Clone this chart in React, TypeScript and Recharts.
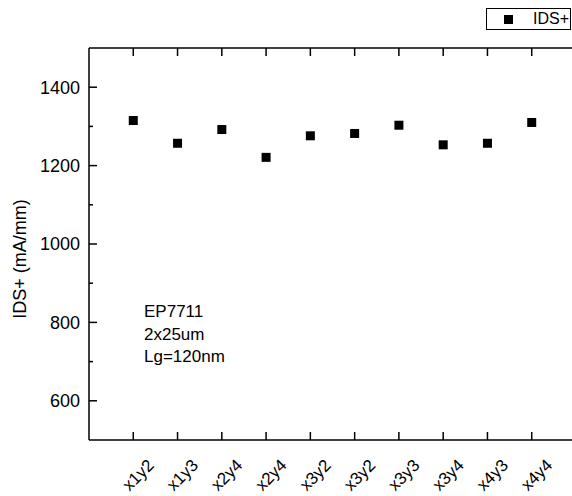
import React from "react";
import { ScatterChart, Scatter, XAxis, YAxis, ReferenceLine } from "recharts";

const categories = ["x1y2", "x1y3", "x2y4", "x2y4", "x3y2", "x3y2", "x3y3", "x3y4", "x4y3", "x4y4"];
const idsValues = [1315, 1257, 1292, 1221, 1276, 1282, 1303, 1253, 1257, 1310];
const yMajorTicks = [600, 800, 1000, 1200, 1400];
const yMinorTicks = [700, 900, 1100, 1300];
const noteLines = ["EP7711", "2x25um", "Lg=120nm"];

const FONT = "'Liberation Sans', Arial, sans-serif";
const PLOT_TOP = 48;
const PLOT_LEFT = 89;
const Y_DOMAIN = [500, 1500];

const points = idsValues.map((v, i) => ({ x: i + 1, y: v, name: categories[i] }));
const xTicks = categories.map((_, i) => i + 1);
const yTicks = [...yMajorTicks, ...yMinorTicks].sort((a, b) => a - b);

const SquareDot = (props: any) => {
    const { cx, cy } = props;
    return <rect x={cx - 4.5} y={cy - 4.5} width={9} height={9} fill="#000" />;
};

const LeftTick = (props: any) => {
    const { x, y, payload } = props;
    const major = yMajorTicks.includes(payload.value);
    return (
        <g>
            <line x1={x} x2={x + (major ? 8 : 4)} y1={y} y2={y} stroke="#000" strokeWidth={1.5} />
            {major && (
                <text x={x - 9} y={y} dy="0.36em" textAnchor="end" fontSize={18} fontFamily={FONT} fill="#000">
                    {payload.value}
                </text>
            )}
        </g>
    );
};

const RightTick = (props: any) => {
    const { x, y, payload } = props;
    const major = yMajorTicks.includes(payload.value);
    return <line x1={x} x2={x - (major ? 8 : 4)} y1={y} y2={y} stroke="#000" strokeWidth={1.5} />;
};

// bottom tick + label, and the matching inward tick on the top frame
const BottomTick = (props: any) => {
    const { x, y, payload } = props;
    const label = categories[payload.value - 1];
    const tx = x + 9;
    const ty = y + 39;
    return (
        <g>
            <line x1={x} x2={x} y1={y} y2={y - 8} stroke="#000" strokeWidth={1.5} />
            <line x1={x} x2={x} y1={PLOT_TOP} y2={PLOT_TOP + 8} stroke="#000" strokeWidth={1.5} />
            <text x={tx} y={ty} textAnchor="middle" fontSize={17} fontFamily={FONT} fill="#000"
                transform={`rotate(-45, ${tx}, ${ty})`}>
                {label}
            </text>
        </g>
    );
};

const LegendBox = () => (
    <div style={{
        position: "absolute", top: 8, left: 486, width: 85, height: 22, boxSizing: "border-box",
        border: "1px solid #000", display: "flex", alignItems: "center", fontFamily: FONT, fontSize: 16,
        background: "#fff"
    }}>
        <div style={{ width: 9, height: 9, background: "#000", marginLeft: 17, marginRight: 20 }} />
        <span>IDS+</span>
    </div>
);

export default function App() {
    return (
        <div style={{ position: "absolute", left: 0, top: 0, width: 572, height: 496, overflow: "hidden", background: "#fff" }}>
            <ScatterChart width={580} height={496} margin={{ top: PLOT_TOP, right: 3, bottom: 0, left: 0 }}>
                <XAxis dataKey="x" type="number" domain={[0, 11]} ticks={xTicks} height={56}
                    axisLine={{ stroke: "#000", strokeWidth: 1.5 }} tickLine={false} tickSize={0} tickMargin={0}
                    tick={<BottomTick />} interval={0} />
                <YAxis dataKey="y" type="number" domain={Y_DOMAIN} ticks={yTicks} width={PLOT_LEFT}
                    axisLine={{ stroke: "#000", strokeWidth: 1.5 }} tickLine={false} tickSize={0} tickMargin={0}
                    tick={<LeftTick />} interval={0} />
                <YAxis yAxisId="right" orientation="right" type="number" domain={Y_DOMAIN} ticks={yTicks} width={1}
                    axisLine={{ stroke: "#000", strokeWidth: 1.5 }} tickLine={false} tickSize={0} tickMargin={0}
                    tick={<RightTick />} interval={0} />
                <ReferenceLine y={Y_DOMAIN[1]} stroke="#000" strokeWidth={1.5} ifOverflow="visible" />
                <Scatter name="IDS+" data={points} dataKey="y" fill="#000" shape={<SquareDot />} isAnimationActive={false} />
                <text x={26} y={259} textAnchor="middle" fontSize={18} fontFamily={FONT} fill="#000"
                    transform="rotate(-90, 26, 259)">
                    IDS+ (mA/mm)
                </text>
                {noteLines.map((line, i) => (
                    <text key={line} x={144} y={317 + i * 22.5} fontSize={17} fontFamily={FONT} fill="#000">
                        {line}
                    </text>
                ))}
            </ScatterChart>
            <LegendBox />
        </div>
    );
}
